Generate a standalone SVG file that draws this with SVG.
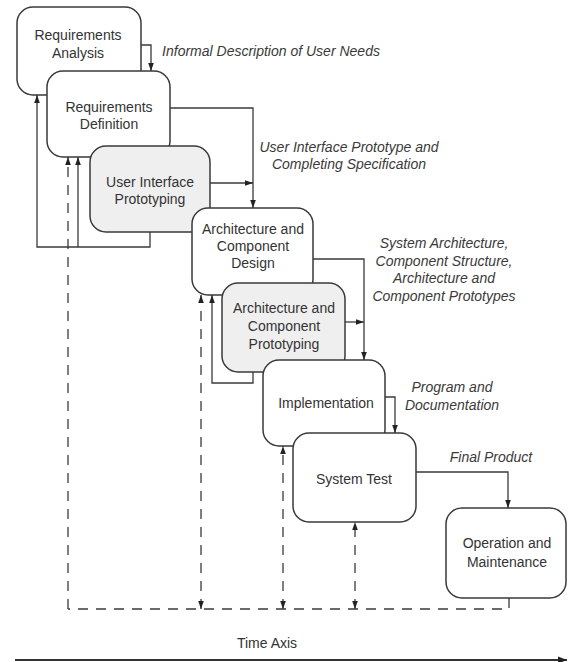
<svg xmlns="http://www.w3.org/2000/svg" width="568" height="662" viewBox="0 0 568 662">
  <style>
    .box { fill: #ffffff; stroke: #3a3a3a; stroke-width: 1.5; }
    .proto { fill: #efefef; }
    .label { font-family: "Liberation Sans", Arial, sans-serif; font-size: 14px; fill: #333333; text-anchor: middle; }
    .note { font-family: "Liberation Sans", Arial, sans-serif; font-size: 14px; font-style: italic; fill: #3a3a3a; text-anchor: middle; }
    .flow { fill: none; stroke: #3a3a3a; stroke-width: 1.3; marker-end: url(#arrow); }
    .dash { fill: none; stroke: #3a3a3a; stroke-width: 1.3; stroke-dasharray: 10 8; }
    .dashup { fill: none; stroke: #3a3a3a; stroke-width: 1.3; stroke-dasharray: 10 8; marker-end: url(#arrow); }
    .dashboth { fill: none; stroke: #3a3a3a; stroke-width: 1.3; stroke-dasharray: 10 8; marker-end: url(#arrow); marker-start: url(#arrow); }
  </style>
  <defs>
    <marker id="arrow" viewBox="0 0 10 10" refX="10" refY="5" markerWidth="8" markerHeight="8" markerUnits="userSpaceOnUse" orient="auto-start-reverse">
      <path d="M0,1.5 L10,5 L0,8.5 Z" fill="#222222"/>
    </marker>
    <marker id="axisHead" viewBox="0 0 10 10" refX="10" refY="5" markerWidth="9" markerHeight="9" markerUnits="userSpaceOnUse" orient="auto">
      <path d="M0,1 L10,5 L0,9 Z" fill="#222222"/>
    </marker>
  </defs>

  <!-- process phases, each drawn over the previous one -->
  <g id="requirements-analysis">
    <rect class="box" x="17" y="7" width="124" height="88" rx="16"/>
    <text class="label" x="78" y="40">Requirements</text>
    <text class="label" x="78" y="58">Analysis</text>
  </g>
  <g id="requirements-definition">
    <rect class="box" x="47" y="71" width="123" height="86" rx="16"/>
    <text class="label" x="109" y="112">Requirements</text>
    <text class="label" x="109" y="129">Definition</text>
  </g>
  <g id="ui-prototyping">
    <rect class="box proto" x="90" y="146" width="120" height="86" rx="16"/>
    <text class="label" x="150" y="187">User Interface</text>
    <text class="label" x="150" y="204">Prototyping</text>
  </g>
  <g id="architecture-design">
    <rect class="box" x="192" y="208" width="121" height="87" rx="16"/>
    <text class="label" x="253" y="234">Architecture and</text>
    <text class="label" x="253" y="251">Component</text>
    <text class="label" x="253" y="268">Design</text>
  </g>
  <g id="architecture-prototyping">
    <rect class="box proto" x="222" y="283" width="123" height="89" rx="16"/>
    <text class="label" x="284" y="313">Architecture and</text>
    <text class="label" x="284" y="331">Component</text>
    <text class="label" x="284" y="349">Prototyping</text>
  </g>
  <g id="implementation">
    <rect class="box" x="263" y="360" width="122" height="86" rx="16"/>
    <text class="label" x="326" y="408">Implementation</text>
  </g>
  <g id="system-test">
    <rect class="box" x="293" y="433" width="123" height="89" rx="16"/>
    <text class="label" x="354" y="484">System Test</text>
  </g>
  <g id="operation-maintenance">
    <rect class="box" x="446" y="508" width="120" height="90" rx="16"/>
    <text class="label" x="507" y="548">Operation and</text>
    <text class="label" x="507" y="567">Maintenance</text>
  </g>

  <!-- hand-over flows, feedback loops and the dashed return path -->
  <g id="connectors">
    <path class="flow" d="M141,45 H151 V71"/>
    <path class="flow" d="M170,108 H253 V208"/>
    <path class="flow" d="M210,183 H253"/>
    <path class="flow" d="M150,232 V247 H37 V95"/>
    <path class="flow" d="M78,247 V157"/>

    <path class="flow" d="M313,259 H364 V360"/>
    <path class="flow" d="M345,322 H364"/>
    <path class="flow" d="M253,372 V383 H212 V295"/>

    <path class="flow" d="M385,397 H395 V433"/>
    <path class="flow" d="M416,472 H508 V508"/>

    <path class="dash" d="M509,598 V609 H68"/>
    <path class="dashup" d="M68,609 V157"/>
    <path class="dashboth" d="M201,609 V295"/>
    <path class="dashboth" d="M283,609 V446"/>
    <path class="dashboth" d="M355,609 V522"/>

    <path d="M15,660 H567" fill="none" stroke="#333333" stroke-width="2" marker-end="url(#axisHead)"/>
  </g>

  <!-- work products passed between phases -->
  <g id="annotations">
    <text class="note" x="271" y="56">Informal Description of User Needs</text>
    <text class="note" x="349" y="152">User Interface Prototype and</text>
    <text class="note" x="349" y="169">Completing Specification</text>
    <text class="note" x="444" y="248">System Architecture,</text>
    <text class="note" x="444" y="266">Component Structure,</text>
    <text class="note" x="444" y="283">Architecture and</text>
    <text class="note" x="444" y="301">Component Prototypes</text>
    <text class="note" x="452" y="392">Program and</text>
    <text class="note" x="452" y="410">Documentation</text>
    <text class="note" x="491" y="462">Final Product</text>
    <text class="label" x="267" y="648">Time Axis</text>
  </g>
</svg>
